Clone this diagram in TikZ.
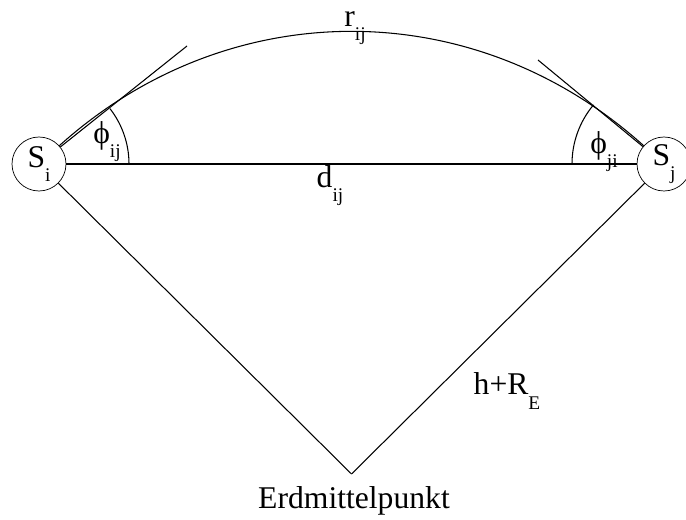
\documentclass[tikz,border=0pt]{standalone}
\usepackage{fontspec}
\setmainfont{Liberation Serif}
\usepackage{tikz}
\newcommand{\idx}[1]{\raisebox{-8pt}{\fontsize{11}{11}\selectfont #1}}
\tikzset{
  sat/.style={circle,draw,minimum size=1.08cm,inner sep=0pt,font=\fontsize{18}{20}\selectfont},
  lbl/.style={inner sep=0pt,font=\fontsize{18}{20}\selectfont},
  ln/.style={line width=0.6pt},
}
\begin{document}
\begin{tikzpicture}[x=0.2mm,y=0.2mm]
\useasboundingbox (0,0) rectangle (686,520);
\node[sat] (Si) at (39,356) {S\idx{i}};
\node[sat] (Sj) at (664,356) {S\idx{j}};
\coordinate (E) at (351.5,46);
\coordinate (ti) at (187,474);
\coordinate (tj) at (538,460);
\draw[ln] (Si) to[bend left=42] (Sj);
\draw[ln] (Si) -- (ti);
\draw[ln] (Sj) -- (tj);
\draw[ln] (Si) -- (Sj);
\draw[ln] (Si) -- (E);
\draw[ln] (Sj) -- (E);
% angles at the two stations
\draw[ln] ([shift={(0:18mm)}]Si.center) arc[start angle=0,end angle=38,radius=18mm];
\draw[ln] ([shift={(180:18.4mm)}]Sj.center) arc[start angle=180,end angle=140,radius=18.4mm];
\node[lbl] (pij) at (107,378) {ϕ\idx{ij}};
\node[lbl] (pji) at (604,368) {ϕ\idx{ji}};
\node[lbl] (rij) at (355,492) {r\idx{ij}};
\node[lbl] (dij) at (330,334) {d\idx{ij}};
\node[lbl] (hre) at (507,129) {h+R\idx{E}};
\node[lbl] (em) at (354,19) {Erdmittelpunkt};
\end{tikzpicture}
\end{document}
